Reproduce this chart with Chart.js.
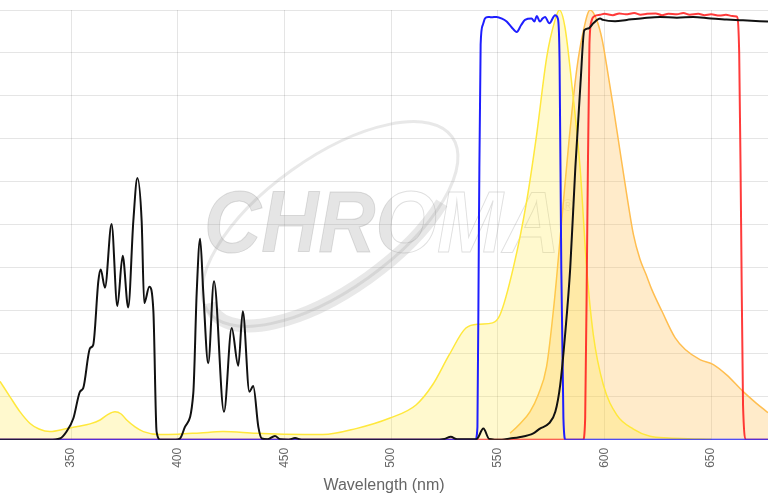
<!DOCTYPE html>
<html>
<head>
<meta charset="utf-8">
<script src="https://cdn.jsdelivr.net/npm/chart.js@4.4.1/dist/chart.umd.min.js"></script>
<style>
  html, body { margin: 0; padding: 0; background: #fff; }
  #wrap { width: 768px; height: 500px; position: relative; }
</style>
</head>
<body>
<div id="wrap"><canvas id="spectraChart"></canvas></div>
<script>
// wavelength axis
const xMin = 316.7;
const xMax = 676.7;
const xTickStep = 50;

// dichroic (black)
const dichroicWl = [316.7, 340, 344.8, 348, 351.1, 354.2, 355.7, 358.9, 360.4, 362.8, 363.9, 365.9, 369.0, 371.7, 374.2, 376.8, 379.2, 381.1, 383.1, 384.3, 386.7, 388.6, 390.1, 392, 399, 401.1, 403.4, 407.3, 408.9, 410.5, 412, 414.3, 417, 421.7, 425.3, 428.4, 430.5, 433.6, 435.4, 437.8, 439.4, 442, 445.6, 448, 452, 455, 458, 520, 525, 528, 531, 540, 543.3, 546, 552, 555.8, 560, 566.7, 569.8, 574, 577, 579.3, 581.6, 584, 586.4, 588.8, 590.6, 592.5, 594.8, 598, 599.4, 605, 610.5, 618, 626.1, 634, 641.6, 650, 657.3, 665, 676.7];
const dichroicT = [0, 0, 0.3, 2, 5, 11.2, 12, 21.3, 22.1, 36.9, 39.6, 35.4, 50.2, 31.1, 42.8, 30.8, 50.9, 60.9, 50.9, 31.8, 35.6, 29.9, 1.9, 0, 0, 0.3, 3, 10.8, 34.2, 46.8, 34.2, 17.8, 36.9, 6.5, 26, 17.2, 29.9, 11.2, 12.5, 3, 0.3, 0.1, 0.9, 0.1, 0, 0.4, 0, 0, 0.2, 0.7, 0.1, 0.1, 2.6, 0.2, 0, 0.3, 0.6, 1.5, 2.6, 3.8, 6.5, 12.8, 24.5, 40, 63.4, 82.9, 95.3, 95.7, 96.9, 98, 97.7, 97.4, 97.7, 98.1, 98.4, 98.2, 98.4, 98.0, 97.8, 97.6, 97.3];

// excitation filter (blue)
const exFilterWl = [316.7, 539.5, 540.5, 541.2, 542, 543, 544, 545.5, 547, 549.5, 552, 554.2, 556.5, 558.9, 561, 562.8, 565.9, 567.2, 568.3, 569.8, 571, 572.2, 574.2, 576.9, 578.2, 579, 579.8, 580.8, 581.8, 676.7];
const exFilterT = [0, 0, 3, 50, 92, 96.5, 98, 98.4, 98.3, 98.4, 98, 97.3, 96, 94.9, 96.5, 97.7, 98, 97.3, 98.6, 97.3, 98, 98.4, 96.9, 98.8, 98, 88, 40, 5, 0, 0];

// emission filter (red)
const emFilterWl = [316.7, 590, 591, 592, 593, 594, 595.5, 598, 600, 604, 607, 610, 614, 617, 620, 624, 627, 630, 634, 637, 640, 644, 647, 650, 654, 657, 660, 662, 663.2, 664.1, 665, 666.5, 676.7];
const emFilterT = [0, 0, 5, 50, 92, 97.5, 98.6, 98.9, 99.1, 98.8, 99.2, 99.0, 99.3, 98.9, 99.1, 99.2, 98.8, 99.1, 99.0, 99.3, 98.9, 99.1, 98.8, 99.0, 98.7, 98.9, 98.6, 98.5, 90, 50, 8, 0, 0];

// dye excitation spectrum (yellow)
const dyeExWl = [316.7, 321.4, 326.1, 330.8, 335, 340.1, 348, 353, 358.9, 363.6, 367, 370.6, 373.5, 376.1, 380, 383.9, 391.7, 400, 410.5, 421.2, 436.7, 450, 468, 483.6, 499.2, 511.7, 519.5, 527.3, 535.1, 541.4, 547.6, 551.1, 557.3, 563.6, 568.3, 573, 576.9, 578.9, 581.5, 584.7, 588.6, 591.7, 594.8, 599.5, 605.8, 613.6, 621.4, 630, 645, 650];
const dyeExI = [13.6, 10, 6.5, 3.8, 2.5, 1.9, 2.6, 3.1, 3.7, 4.6, 5.8, 6.5, 6, 4.6, 3, 1.9, 1.2, 1.3, 1.6, 1.9, 1.5, 1.3, 1.2, 2.6, 5, 8.1, 12.8, 19.8, 26, 26.9, 27.2, 29.1, 40, 55.6, 71.2, 89.1, 97.7, 100, 96.1, 82.9, 63.4, 40, 24.5, 12.8, 5.8, 2.5, 0.8, 0.4, 0.2, 0.1];

// dye emission spectrum (orange)
const dyeEmWl = [555.8, 560, 565.1, 569, 572.9, 576.5, 580, 583.5, 587, 590.1, 593.3, 596.4, 599, 601.1, 604, 607.3, 610.5, 613.6, 616.7, 619.5, 622.2, 627, 633.2, 637.9, 645, 651.1, 657.3, 665.1, 671, 676.7];
const dyeEmI = [1.5, 3.5, 6.5, 10.5, 17, 32, 51, 70, 86, 95, 100, 97.7, 93, 87, 78, 67.3, 57, 47.8, 42, 38.5, 35, 29.9, 23.7, 21, 18.6, 17.5, 15.1, 11.2, 8.6, 6.3];

function toPoints(xs, ys) {
    return xs.map((x, i) => ({ x: x, y: ys[i] }));
}

// grey CHROMA watermark behind the curves
const watermark = {
    id: 'watermark',
    beforeDatasetsDraw(chart) {
        const ctx = chart.ctx;
        ctx.save();

        // swoosh
        ctx.save();
        ctx.translate(330, 224);
        ctx.rotate(-0.62);
        ctx.strokeStyle = 'rgba(150,150,150,0.22)';
        ctx.lineWidth = 3;
        ctx.beginPath();
        ctx.ellipse(0, 0, 150, 66, 0, 0, Math.PI * 2);
        ctx.stroke();
        ctx.lineWidth = 13;
        ctx.beginPath();
        ctx.ellipse(0, 4, 146, 62, 0, Math.PI * 0.25, Math.PI * 1.05);
        ctx.stroke();
        ctx.restore();

        // text
        ctx.font = 'italic bold 88px "Liberation Sans", Arial, sans-serif';
        const w = ctx.measureText('CHROMA').width;
        ctx.save();
        ctx.translate(204, 252);
        ctx.scale(356 / w, 1);
        ctx.textBaseline = 'alphabetic';
        ctx.strokeStyle = 'rgba(150,150,150,0.3)';
        ctx.lineWidth = 1;
        ctx.strokeText('CHROMA', 0, 0);
        ctx.beginPath();
        ctx.rect(-20, -100, (410 - 204) * w / 356, 140);
        ctx.clip();
        ctx.fillStyle = 'rgba(150,150,150,0.25)';
        ctx.fillText('CHROMA', 0, 0);
        ctx.restore();

        ctx.font = '16px "Liberation Sans", Arial, sans-serif';
        ctx.fillStyle = 'rgba(150,150,150,0.25)';
        ctx.fillText('\u00AE', 562, 211);
        ctx.restore();
    }
};

const ctx = document.getElementById('spectraChart').getContext('2d');
const spectraChart = new Chart(ctx, {
    type: 'line',
    data: {
        datasets: [
            {
                label: 'Dichroic',
                data: toPoints(dichroicWl, dichroicT),
                borderColor: '#111111',
                borderWidth: 2,
                fill: false,
                order: 1
            },
            {
                label: 'Excitation filter',
                data: toPoints(exFilterWl, exFilterT),
                borderColor: 'rgba(30,30,255,1)',
                borderWidth: 2,
                fill: false,
                order: 1
            },
            {
                label: 'Emission filter',
                data: toPoints(emFilterWl, emFilterT),
                borderColor: 'rgba(255,25,25,0.85)',
                borderWidth: 2,
                fill: false,
                order: 1
            },
            {
                label: 'Excitation',
                data: toPoints(dyeExWl, dyeExI),
                borderColor: 'rgba(255,232,60,1)',
                backgroundColor: 'rgba(255,232,60,0.25)',
                borderWidth: 1.5,
                fill: 'origin',
                order: 2
            },
            {
                label: 'Emission',
                data: toPoints(dyeEmWl, dyeEmI),
                borderColor: 'rgba(255,190,80,1)',
                backgroundColor: 'rgba(255,190,80,0.3)',
                borderWidth: 1.5,
                fill: 'origin',
                order: 2
            }
        ]
    },
    options: {
        responsive: true,
        maintainAspectRatio: false,
        animation: false,
        elements: {
            point: { radius: 0, hoverRadius: 0 },
            line: { cubicInterpolationMode: 'monotone' }
        },
        layout: {
            padding: { top: 10, left: 0, right: 0, bottom: 5 }
        },
        plugins: {
            legend: { display: false },
            tooltip: { enabled: false }
        },
        scales: {
            x: {
                type: 'linear',
                min: xMin,
                max: xMax,
                border: { display: false },
                grid: { color: 'rgba(0,0,0,0.1)', drawTicks: false },
                afterBuildTicks: function(scale) {
                    scale.ticks = scale.ticks.filter(t => t.value % xTickStep === 0);
                },
                ticks: {
                    stepSize: xTickStep,
                    minRotation: 90,
                    maxRotation: 90,
                    padding: 8,
                    color: '#666',
                    font: { size: 12, family: '"Liberation Sans", Arial, sans-serif' }
                },
                title: {
                    display: true,
                    text: 'Wavelength (nm)',
                    color: '#666',
                    padding: { top: 0, bottom: 0 },
                    font: { size: 16, family: '"Liberation Sans", Arial, sans-serif' }
                }
            },
            y: {
                min: 0,
                max: 100,
                border: { display: false },
                grid: { color: 'rgba(0,0,0,0.1)', drawTicks: false },
                ticks: { display: false, stepSize: 10 }
            }
        }
    },
    plugins: [watermark]
});
</script>
</body>
</html>
